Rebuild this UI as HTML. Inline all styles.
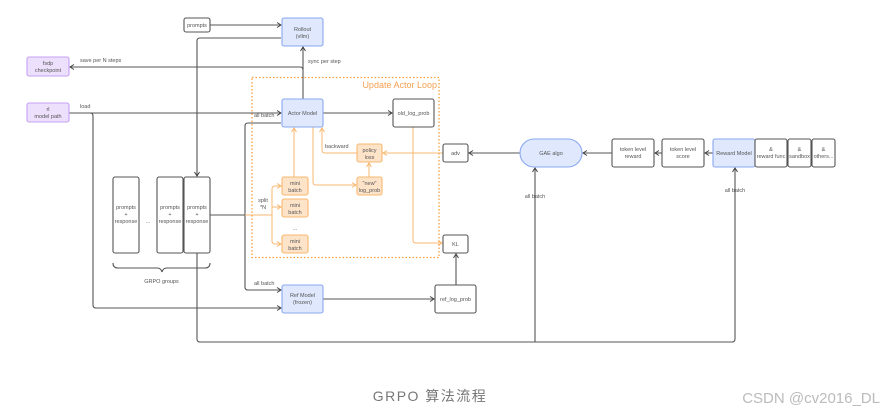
<!DOCTYPE html>
<html><head><meta charset="utf-8"><style>
html,body{margin:0;padding:0;background:#fff;}
svg{display:block;font-family:"Liberation Sans","Noto Sans CJK SC",sans-serif;}
.t{font-size:5.5px;fill:#555;text-anchor:middle;}
.l{font-size:5.5px;fill:#555;}
</style></head><body>
<svg width="888" height="413" viewBox="0 0 888 413" xmlns="http://www.w3.org/2000/svg">
<defs>
<marker id="a" markerWidth="6" markerHeight="6" refX="5" refY="3" orient="auto" markerUnits="userSpaceOnUse"><path d="M1,0.5 L5,3 L1,5.5" fill="none" stroke="#444" stroke-width="1"/></marker>
<marker id="o" markerWidth="6" markerHeight="6" refX="5" refY="3" orient="auto" markerUnits="userSpaceOnUse"><path d="M1,0.5 L5,3 L1,5.5" fill="none" stroke="#f8b870" stroke-width="1"/></marker>
</defs>
<g fill="none" stroke="#555" stroke-width="1.1">
<path d="M210,25 H281" marker-end="url(#a)"/>
<path d="M281,38 H200 Q197,38 197,41 V176" marker-end="url(#a)"/>
<path d="M303,99 V47" marker-end="url(#a)"/>
<path d="M303,70 Q303,67 300,67 H70" marker-end="url(#a)"/>
<path d="M69,113 H281" marker-end="url(#a)"/>
<path d="M90,113 Q93,113 93,116 V305 Q93,308 96,308 H281" marker-end="url(#a)"/>
<path d="M210,215 H245"/>
<path d="M281,123 H248 Q245,123 245,126 V287 Q245,290 248,290 H281" marker-end="url(#a)"/>
<path d="M323,113 H392" marker-end="url(#a)"/>
<path d="M323,299 H434" marker-end="url(#a)"/>
<path d="M456,285 V254" marker-end="url(#a)"/>
<path d="M520,153 H469" marker-end="url(#a)"/>
<path d="M612,153 H583" marker-end="url(#a)"/>
<path d="M662,153 H655" marker-end="url(#a)"/>
<path d="M713,153 H705" marker-end="url(#a)"/>
<path d="M197,253 V339 Q197,342 200,342 H732 Q735,342 735,339 V168" marker-end="url(#a)"/>
<path d="M535,342 V168" marker-end="url(#a)"/>
<path d="M113,263 Q113,268 118,268 H157 Q161,268 162,272 Q163,268 167,268 H205 Q210,268 210,263"/>
</g>
<g fill="none" stroke="#f8b870" stroke-width="1">
<path d="M245,215 H272"/>
<path d="M272,215 V189 Q272,186 275,186 H281" marker-end="url(#o)"/>
<path d="M272,207 H281" marker-end="url(#o)"/>
<path d="M272,215 V241 Q272,244 275,244 H281" marker-end="url(#o)"/>
<path d="M294,177 V128" marker-end="url(#o)"/>
<path d="M313,127 V182 Q313,185 316,185 H356" marker-end="url(#o)"/>
<path d="M369,177 V163" marker-end="url(#o)"/>
<path d="M357,153 H325 Q322,153 322,150 V128" marker-end="url(#o)"/>
<path d="M443,153 H383" marker-end="url(#o)"/>
<path d="M413,127 V240 Q413,243 416,243 H442" marker-end="url(#o)"/>
</g>
<rect x="252" y="77.5" width="187" height="180" fill="none" stroke="#f8a040" stroke-width="1.3" stroke-dasharray="1.5,2"/>
<text x="437" y="88" font-size="9" fill="#f5a050" text-anchor="end">Update Actor Loop</text>
<g stroke-width="1.1">
<rect x="184" y="18" width="26" height="14" rx="2" fill="#fff" stroke="#555"/>
<rect x="282" y="18" width="41" height="28" rx="2" fill="#dfe8fc" stroke="#8aa8f0"/>
<rect x="27" y="57" width="42" height="19" rx="2" fill="#ede0fc" stroke="#c7a0f5"/>
<rect x="27" y="103" width="42" height="19" rx="2" fill="#ede0fc" stroke="#c7a0f5"/>
<rect x="282" y="99" width="41" height="28" rx="2" fill="#dfe8fc" stroke="#8aa8f0"/>
<rect x="393" y="99" width="41" height="28" rx="2" fill="#fff" stroke="#555"/>
<rect x="357" y="144" width="25" height="18" rx="2" fill="#fde3c8" stroke="#f8b870"/>
<rect x="357" y="177" width="25" height="18" rx="2" fill="#fde3c8" stroke="#f8b870"/>
<rect x="282" y="177" width="26" height="18" rx="2" fill="#fde3c8" stroke="#f8b870"/>
<rect x="282" y="199" width="26" height="18" rx="2" fill="#fde3c8" stroke="#f8b870"/>
<rect x="282" y="235" width="26" height="18" rx="2" fill="#fde3c8" stroke="#f8b870"/>
<rect x="443" y="144" width="25" height="18" rx="2" fill="#fff" stroke="#555"/>
<rect x="443" y="235" width="25" height="18" rx="2" fill="#fff" stroke="#555"/>
<rect x="520" y="139" width="62" height="28" rx="14" fill="#dfe8fc" stroke="#8aa8f0"/>
<rect x="612" y="139" width="42" height="28" rx="2" fill="#fff" stroke="#555"/>
<rect x="662" y="139" width="42" height="28" rx="2" fill="#fff" stroke="#555"/>
<rect x="713" y="139" width="42" height="28" rx="2" fill="#dfe8fc" stroke="#8aa8f0"/>
<rect x="755" y="139" width="32" height="28" rx="2" fill="#fff" stroke="#555"/>
<rect x="788" y="139" width="23" height="28" rx="2" fill="#fff" stroke="#555"/>
<rect x="812" y="139" width="23" height="28" rx="2" fill="#fff" stroke="#555"/>
<rect x="113" y="177" width="26" height="76" rx="2" fill="#fff" stroke="#555"/>
<rect x="157" y="177" width="26" height="76" rx="2" fill="#fff" stroke="#555"/>
<rect x="184" y="177" width="26" height="76" rx="2" fill="#fff" stroke="#555"/>
<rect x="282" y="285" width="41" height="28" rx="2" fill="#dfe8fc" stroke="#8aa8f0"/>
<rect x="435" y="285" width="41" height="28" rx="2" fill="#fff" stroke="#555"/>
</g>
<g class="t">
<text x="197" y="27">prompts</text>
<text x="302.5" y="31">Rollout</text><text x="302.5" y="38">(vllm)</text>
<text x="48" y="65">fsdp</text><text x="48" y="72">checkpoint</text>
<text x="48" y="111">rl</text><text x="48" y="118">model path</text>
<text x="302.5" y="115">Actor Model</text>
<text x="413.5" y="115">old_log_prob</text>
<text x="369.5" y="152">policy</text><text x="369.5" y="159">loss</text>
<text x="369.5" y="185">"new"</text><text x="369.5" y="192">log_prob</text>
<text x="295" y="185">mini</text><text x="295" y="192">batch</text>
<text x="295" y="207">mini</text><text x="295" y="214">batch</text>
<text x="295" y="230">...</text>
<text x="295" y="243">mini</text><text x="295" y="250">batch</text>
<text x="455.5" y="155">adv</text>
<text x="455.5" y="246">KL</text>
<text x="551" y="155">GAE algo</text>
<text x="633" y="151">token level</text><text x="633" y="158">reward</text>
<text x="683" y="151">token level</text><text x="683" y="158">score</text>
<text x="734" y="155">Reward Model</text>
<text x="771" y="151">&amp;</text><text x="771" y="158">reward func</text>
<text x="799.5" y="151">&amp;</text><text x="799.5" y="158">sandbox</text>
<text x="823.5" y="151">&amp;</text><text x="823.5" y="158">others...</text>
<text x="126" y="209">prompts</text><text x="126" y="216">+</text><text x="126" y="223">response</text>
<text x="148" y="223">...</text>
<text x="170" y="209">prompts</text><text x="170" y="216">+</text><text x="170" y="223">response</text>
<text x="197" y="209">prompts</text><text x="197" y="216">+</text><text x="197" y="223">response</text>
<text x="161.5" y="283">GRPO groups</text>
<text x="302.5" y="297">Ref Model</text><text x="302.5" y="304">(frozen)</text>
<text x="455.5" y="301">ref_log_prob</text>
<text x="263" y="202">split</text><text x="263" y="209">*N</text>
<text x="535" y="198">all batch</text>
<text x="735" y="192">all batch</text>
</g>
<g class="l">
<text x="80" y="62">save per N steps</text>
<text x="308" y="63">sync per step</text>
<text x="80" y="108">load</text>
<text x="254" y="117">all batch</text>
<text x="254" y="285">all batch</text>
<text x="325" y="148">backward</text>
</g>
<text x="430" y="401" font-size="14" fill="#777" text-anchor="middle" letter-spacing="1.5">GRPO 算法流程</text>
<text x="880" y="403" font-size="15" fill="#bbb" text-anchor="end">CSDN @cv2016_DL</text>
</svg>
</body></html>
